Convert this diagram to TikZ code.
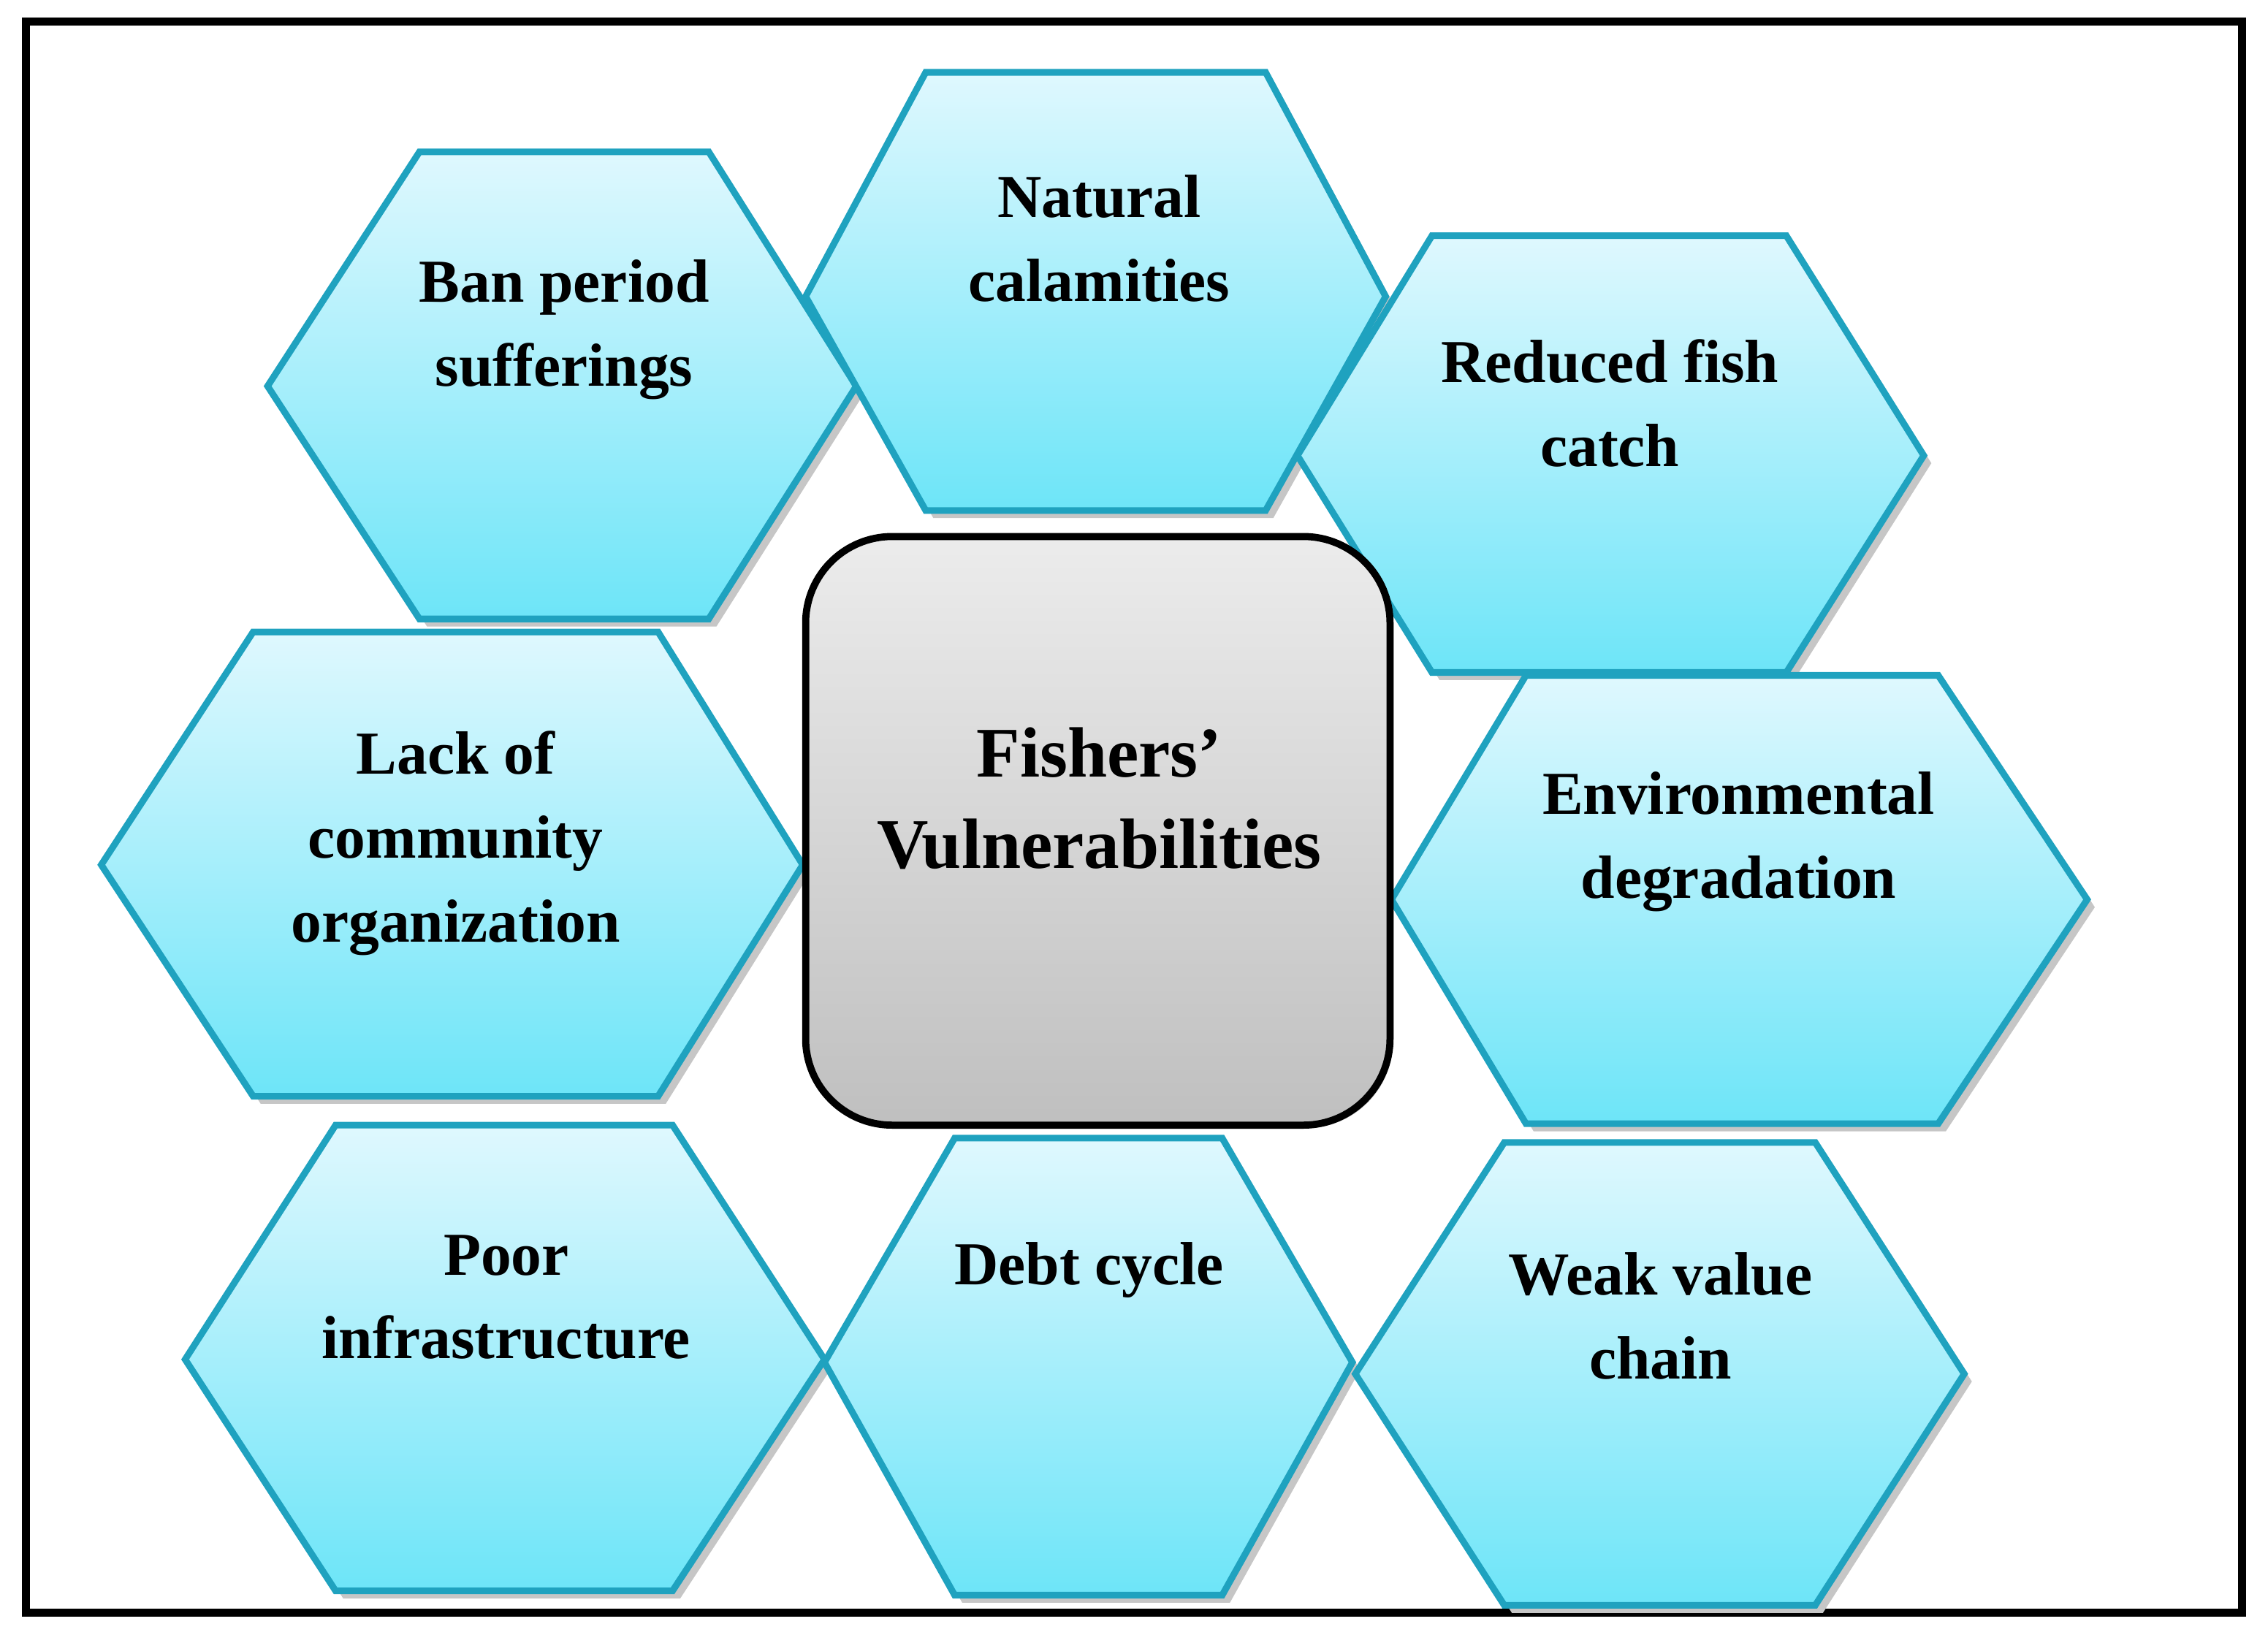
\documentclass[tikz,border=0pt]{standalone}
\usepackage{fontspec}
\setmainfont{Liberation Serif}
\definecolor{hexline}{HTML}{1FA2BF}
\definecolor{hextop}{HTML}{DFF8FE}
\definecolor{hexbot}{HTML}{6DE5F8}
\tikzset{
  hexa/.style={draw=hexline,line width=1.3pt,top color=hextop,bottom color=hexbot,line join=miter},
  hexs/.style={fill=gray!45,draw=none},
  lbl/.style={font=\fontsize{12}{16.5}\selectfont\bfseries,align=center},
}
\newcommand{\myhex}[7]{%
  \fill[hexs,xshift=1.5pt,yshift=-1.5pt] (#1,-#6)--(#2,-#5)--(#3,-#5)--(#4,-#6)--(#3,-#7)--(#2,-#7)--cycle;
  \path[hexa] (#1,-#6)--(#2,-#5)--(#3,-#5)--(#4,-#6)--(#3,-#7)--(#2,-#7)--cycle;}
\begin{document}
\begin{tikzpicture}[x=0.01cm,y=0.01cm]
\useasboundingbox (0,0) rectangle (1568,-1136);
\draw[line width=1.6pt] (18,-15) rectangle (1550,-1115);
\myhex{185}{290}{490}{592}{105}{267}{428}
\myhex{557}{640}{875}{958}{50}{205}{353}
\myhex{897}{990}{1235}{1330}{163}{315}{465}
\myhex{70}{175}{455}{555}{437}{598}{758}
\myhex{962}{1055}{1340}{1443}{467}{622}{777}
\myhex{128}{232}{465}{570}{778}{940}{1100}
\myhex{570}{660}{845}{935}{787}{942}{1103}
\myhex{937}{1040}{1255}{1358}{790}{950}{1110}
\fill[gray!50,rounded corners=17pt] (559,-373) rectangle (963,-780);
\draw[line width=1.4pt,rounded corners=17pt,top color=gray!15,bottom color=gray!50] (557,-371) rectangle (961,-778);
\node[lbl] (ban) at (390,-228) {Ban period\\sufferings};
\node[lbl] (nat) at (760,-165) {Natural\\calamities};
\node[lbl] (red) at (1113,-279) {Reduced fish\\catch};
\node[lbl] (lack) at (315,-583) {Lack of\\community\\organization};
\node[lbl] (env) at (1202,-582) {Environmental\\degradation};
\node[lbl] (poor) at (350,-897) {Poor\\infrastructure};
\node[lbl] (debt) at (753,-878) {Debt cycle};
\node[lbl] (weak) at (1148,-910) {Weak value\\chain};
\node[lbl,font=\fontsize{14}{18}\selectfont\bfseries] (fv) at (760,-552) {Fishers’\\Vulnerabilities};
\end{tikzpicture}
\end{document}
